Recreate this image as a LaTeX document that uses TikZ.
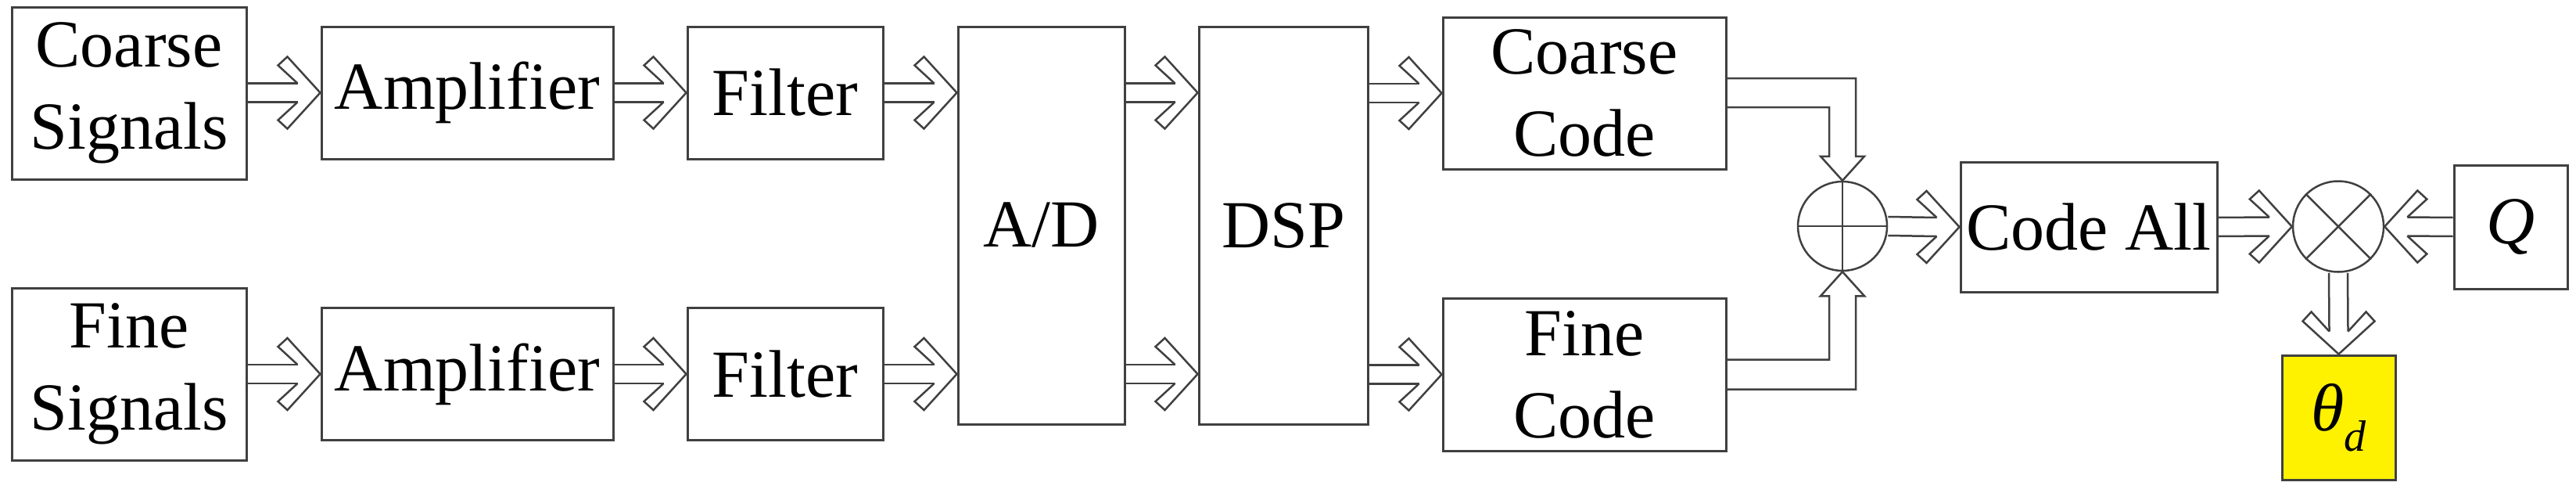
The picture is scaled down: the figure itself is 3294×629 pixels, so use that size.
\documentclass[tikz,border=0pt]{standalone}
\usepackage{fontspec}
\setmainfont{Liberation Serif}
\usetikzlibrary{calc}
\definecolor{ln}{HTML}{404040}
\tikzset{
  blk/.style={draw=ln,line width=3pt,rectangle,inner sep=0pt,align=center,font=\fontsize{86}{105}\selectfont},
  conn/.style={draw=ln,line width=2.5pt,line join=miter},
  circ/.style={draw=ln,line width=2.5pt,circle,inner sep=0pt}
}
\newcommand\harr[3]{%
  \draw[conn] ($(#1)+(#3+90:12)$) -- ($(#2)+(#3:-29)+(#3+90:12)$);
  \draw[conn] ($(#1)+(#3-90:12)$) -- ($(#2)+(#3:-29)+(#3-90:12)$);
  \begin{scope}[shift={(#2)},rotate=#3]
    \draw[conn] (-29,12) -- (-54,35) -- (-42,46) -- (0,0) -- (-42,-46) -- (-54,-35) -- (-29,-12);
  \end{scope}}
\begin{document}
\begin{tikzpicture}[x=1pt,y=1pt]
\useasboundingbox (0,0) rectangle (3294,-629);
\node[blk,minimum width=300,minimum height=220] (cs) at (165,-119) {Coarse\\Signals};
\node[blk,minimum width=300,minimum height=220] (fs) at (165,-478) {Fine\\Signals};
\node[blk,minimum width=373,minimum height=169] (amp1) at (597.5,-118.5) {Amplifier};
\node[blk,minimum width=373,minimum height=169] (amp2) at (597.5,-478) {Amplifier};
\node[blk,minimum width=250,minimum height=169] (fil1) at (1004,-118.5) {Filter};
\node[blk,minimum width=250,minimum height=169] (fil2) at (1004,-478) {Filter};
\node[blk,minimum width=213,minimum height=508] (ad) at (1331.5,-288) {A/D};
\node[blk,minimum width=216,minimum height=508] (dsp) at (1641,-288) {DSP};
\node[blk,minimum width=362,minimum height=194] (cc) at (2026,-119) {Coarse\\Code};
\node[blk,minimum width=362,minimum height=195] (fc) at (2026,-478.5) {Fine\\Code};
\node[circ,minimum size=114] (sum) at (2356,-289) {};
\draw[conn] (sum.north) -- (sum.south) (sum.west) -- (sum.east);
\node[blk,minimum width=328,minimum height=166] (all) at (2671,-290) {Code All};
\node[circ,minimum size=116] (mul) at (2990,-289.5) {};
\draw[conn] (mul.north west) -- (mul.south east) (mul.north east) -- (mul.south west);
\node[blk,minimum width=145,minimum height=158] (q) at (3210.5,-290) {\itshape Q};
\node[blk,fill=yellow,minimum width=145,minimum height=159] (th) at (2990.5,-533.5) {\itshape θ\raisebox{-0.3em}{\fontsize{56}{56}\selectfont d}};
% straight arrows
\harr{cs.east |- amp1.east}{amp1.west}{0}
\harr{fs.east |- amp2.east}{amp2.west}{0}
\harr{amp1.east}{fil1.west}{0}
\harr{amp2.east}{fil2.west}{0}
\harr{fil1.east}{ad.west |- fil1.east}{0}
\harr{fil2.east}{ad.west |- fil2.east}{0}
\harr{ad.east |- fil1.east}{dsp.west |- fil1.east}{0}
\harr{ad.east |- fil2.east}{dsp.west |- fil2.east}{0}
\harr{dsp.east |- cc.east}{cc.west}{0}
\harr{dsp.east |- fc.east}{fc.west}{0}
\harr{sum.east}{all.west}{0}
\harr{all.east}{mul.west}{0}
\harr{q.west}{mul.east}{180}
\harr{mul.south}{th.north}{-90}
% bent arrows into the sum
\draw[conn] ([yshift=19]cc.east) -| ([xshift=17,yshift=31]sum.north)
  -- ([xshift=28,yshift=31]sum.north) -- (sum.north) -- ([xshift=-28,yshift=31]sum.north)
  -- ([xshift=-17,yshift=31]sum.north) |- ([yshift=-18]cc.east);
\draw[conn] ([yshift=-19]fc.east) -| ([xshift=17,yshift=-31]sum.south)
  -- ([xshift=28,yshift=-31]sum.south) -- (sum.south) -- ([xshift=-28,yshift=-31]sum.south)
  -- ([xshift=-17,yshift=-31]sum.south) |- ([yshift=19]fc.east);
\end{tikzpicture}
\end{document}
